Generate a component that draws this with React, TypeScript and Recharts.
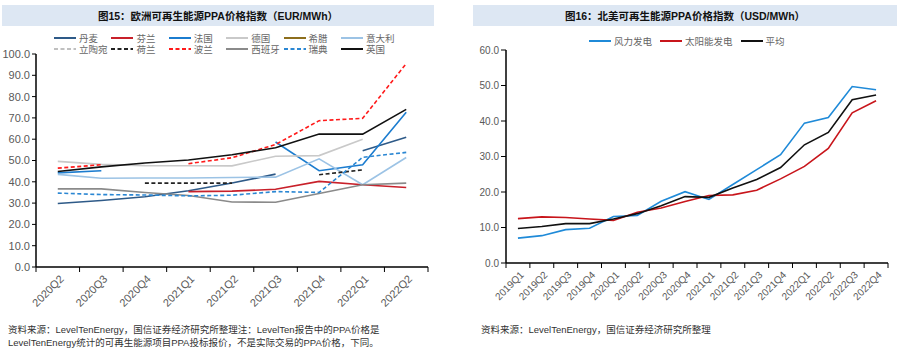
import { Legend, Line, LineChart, XAxis, YAxis } from 'recharts';

const quartersEU = ['2020Q2', '2020Q3', '2020Q4', '2021Q1', '2021Q2', '2021Q3', '2021Q4', '2022Q1', '2022Q2'];
const denmark = [29.8, 31.2, 33, 35.8, 39.4, 43.6, null, 54.6, 60.9];
const finland = [null, null, null, 35.4, 35.6, 36.5, 40.2, 38.6, 37.3];
const france = [44.2, 45.2, null, null, null, 58.7, 45.2, 48, 72.6];
const germany = [49.6, 48.2, 47.6, 47.5, 47.5, 52, 52.3, 60, null];
const greece = [null, null, null, null, null, null, null, null, null];
const italy = [43.5, 41.7, 41.8, 41.8, 42, 42.2, 50.8, 38.6, 51.4];
const lithuania = [null, null, null, null, null, null, null, null, null];
const netherlands = [null, null, 39.4, 39.4, 39.4, null, 43.3, 45.6, null];
const poland = [46.4, 48, null, 48.5, 51.3, 57.5, 68.7, 69.8, 95.5];
const spain = [36.7, 36.7, 35, 33.6, 30.5, 30.4, 34.5, 38.6, 39.4];
const sweden = [34.7, 34, 33.8, 33.4, 33.7, 35.4, 35, 51.5, 53.8];
const uk = [44.8, 47, 48.8, 50.2, 52.7, 56, 62.4, 62.4, 74];
const ticksEU = [0, 10, 20, 30, 40, 50, 60, 70, 80, 90, 100];

const quartersNA = [
  '2019Q1', '2019Q2', '2019Q3', '2019Q4', '2020Q1', '2020Q2', '2020Q3', '2020Q4',
  '2021Q1', '2021Q2', '2021Q3', '2021Q4', '2022Q1', '2022Q2', '2022Q3', '2022Q4',
];
const wind = [7.0, 7.7, 9.4, 9.8, 13.1, 13.4, 17.4, 20.1, 17.9, 22.1, 26.3, 30.5, 39.4, 41.0, 49.7, 48.8];
const solar = [12.5, 13.0, 12.8, 12.4, 12.0, 14.3, 15.5, 17.3, 19.0, 19.2, 20.5, 23.7, 27.2, 32.3, 42.3, 45.7];
const average = [9.7, 10.3, 11.1, 11.1, 12.4, 13.9, 16.1, 18.7, 18.5, 21.1, 23.5, 26.9, 33.3, 36.8, 46.0, 47.3];
const ticksNA = [0, 10, 20, 30, 40, 50, 60];

const seriesEU = [
  { key: 'dk', name: '丹麦', values: denmark, color: '#2e5a88' },
  { key: 'fi', name: '芬兰', values: finland, color: '#c8202a' },
  { key: 'fr', name: '法国', values: france, color: '#1b7ccf' },
  { key: 'de', name: '德国', values: germany, color: '#c9c9c9' },
  { key: 'gr', name: '希腊', values: greece, color: '#8d6e1c' },
  { key: 'it', name: '意大利', values: italy, color: '#9cc3e5' },
  { key: 'lt', name: '立陶宛', values: lithuania, color: '#c0c0c0', dash: '4 2.5' },
  { key: 'nl', name: '荷兰', values: netherlands, color: '#222222', dash: '4 2.5' },
  { key: 'pl', name: '波兰', values: poland, color: '#ff1a1a', dash: '4 2.5' },
  { key: 'es', name: '西班牙', values: spain, color: '#8a8a8a' },
  { key: 'se', name: '瑞典', values: sweden, color: '#2b87d3', dash: '4 2.5' },
  { key: 'uk', name: '英国', values: uk, color: '#111111' },
];

const seriesNA = [
  { key: 'wind', name: '风力发电', values: wind, color: '#1f8ad8' },
  { key: 'solar', name: '太阳能发电', values: solar, color: '#c8151b' },
  { key: 'avg', name: '平均', values: average, color: '#111111' },
];

const rowsEU = quartersEU.map((q, i) => {
  const row: Record<string, any> = { q };
  seriesEU.forEach((s) => (row[s.key] = s.values[i]));
  return row;
});

const rowsNA = quartersNA.map((q, i) => {
  const row: Record<string, any> = { q };
  seriesNA.forEach((s) => (row[s.key] = s.values[i]));
  return row;
});

const FONT = '"Liberation Sans", Arial, "Noto Sans CJK SC", sans-serif';
const LABEL = '#595959';

// chart boxes: width, y-axis width, right margin
const EU_W = 440, EU_YW = 36, EU_R = 12;
const NA_W = 450, NA_YW = 56, NA_R = 12;
const halfBand = (w: number, yw: number, r: number, n: number) => (w - yw - r) / n / 2;

// label at the band centre, tick marks on the band edges (Excel style)
function QuarterTick(props: any) {
  const { x, y, payload, index, visibleTicksCount, fontSize, half } = props;
  return (
    <g>
      <line x1={x - half} x2={x - half} y1={y} y2={y + 5} stroke="#000" />
      {index === visibleTicksCount - 1 && (
        <line x1={x + half} x2={x + half} y1={y} y2={y + 5} stroke="#000" />
      )}
      <text
        transform={`translate(${x + 4},${y + 10}) rotate(-45)`}
        textAnchor="end"
        dy="0.35em"
        fontSize={fontSize}
        fill={LABEL}
        fontFamily={FONT}
      >
        {payload.value}
      </text>
    </g>
  );
}

function LegendItem({ name, color, dash }: { name: string; color: string; dash?: string }) {
  return (
    <div style={{ display: 'flex', alignItems: 'center', height: 11.5 }}>
      <svg width={22} height={4} style={{ marginRight: 3 }}>
        <line x1={0} x2={22} y1={2} y2={2} stroke={color} strokeWidth={2} strokeDasharray={dash} />
      </svg>
      <span style={{ fontSize: 9.5, color: '#666', whiteSpace: 'nowrap' }}>{name}</span>
    </div>
  );
}

function LegendEU() {
  return (
    <div style={{ display: 'grid', gridTemplateColumns: 'repeat(6, 57.4px)', fontFamily: FONT }}>
      {seriesEU.map((s) => (
        <LegendItem key={s.key} name={s.name} color={s.color} dash={s.dash} />
      ))}
    </div>
  );
}

function LegendNA() {
  return (
    <div style={{ display: 'flex', fontFamily: FONT }}>
      {seriesNA.map((s) => (
        <div key={s.key} style={{ marginRight: 8 }}>
          <LegendItem name={s.name} color={s.color} />
        </div>
      ))}
    </div>
  );
}

const titleStyle: React.CSSProperties = {
  position: 'absolute',
  top: 5,
  height: 21,
  background: '#dde7f3',
  fontWeight: 'bold',
  fontSize: 10.5,
  color: '#111',
  display: 'flex',
  alignItems: 'center',
  justifyContent: 'center',
};

const noteStyle: React.CSSProperties = {
  position: 'absolute',
  fontSize: 9.5,
  color: '#333',
  lineHeight: '13px',
  whiteSpace: 'nowrap',
};

export default function App() {
  const halfEU = halfBand(EU_W, EU_YW, EU_R, quartersEU.length);
  const halfNA = halfBand(NA_W, NA_YW, NA_R, quartersNA.length);
  return (
    <div
      style={{
        position: 'absolute',
        left: 0,
        top: 0,
        width: 900,
        height: 351,
        background: '#fff',
        fontFamily: FONT,
        overflow: 'hidden',
      }}
    >
      <div style={{ ...titleStyle, left: 2, width: 432 }}>图15：欧洲可再生能源PPA价格指数（EUR/MWh）</div>
      <div style={{ ...titleStyle, left: 473, width: 424 }}>图16：北美可再生能源PPA价格指数（USD/MWh）</div>

      <div style={{ position: 'absolute', left: 0, top: 0 }}>
        <LineChart width={EU_W} height={320} data={rowsEU} margin={{ top: 31, right: EU_R, left: 0, bottom: 0 }}>
          <XAxis
            dataKey="q"
            scale="band"
            height={53}
            interval={0}
            tickLine={false}
            tickSize={0}
            tickMargin={0}
            axisLine={{ stroke: '#000', strokeWidth: 1.5 }}
            tick={(p: any) => <QuarterTick {...p} fontSize={11} half={halfEU} />}
          />
          <YAxis
            width={EU_YW}
            domain={[0, 100]}
            ticks={ticksEU}
            interval={0}
            tickSize={4}
            tickMargin={2}
            tickFormatter={(v: number) => v.toFixed(1)}
            axisLine={{ stroke: '#000', strokeWidth: 1.5 }}
            tickLine={{ stroke: '#000' }}
            tick={{ fill: LABEL, fontSize: 11, fontFamily: FONT }}
          />
          <Legend
            verticalAlign="top"
            height={23}
            wrapperStyle={{ left: 54, top: 32, width: 360 }}
            content={() => <LegendEU />}
          />
          {seriesEU.map((s) => (
            <Line
              key={s.key}
              dataKey={s.key}
              name={s.name}
              stroke={s.color}
              strokeWidth={1.6}
              strokeDasharray={s.dash}
              dot={false}
              activeDot={false}
              isAnimationActive={false}
            />
          ))}
        </LineChart>
      </div>

      <div style={{ position: 'absolute', left: 450, top: 0 }}>
        <LineChart width={NA_W} height={320} data={rowsNA} margin={{ top: 34, right: NA_R, left: 0, bottom: 0 }}>
          <XAxis
            dataKey="q"
            scale="band"
            height={57}
            interval={0}
            tickLine={false}
            tickSize={0}
            tickMargin={0}
            axisLine={{ stroke: '#000', strokeWidth: 1.5 }}
            tick={(p: any) => <QuarterTick {...p} fontSize={10} half={halfNA} />}
          />
          <YAxis
            width={NA_YW}
            domain={[0, 60]}
            ticks={ticksNA}
            interval={0}
            tickSize={5}
            tickMargin={2}
            tickFormatter={(v: number) => v.toFixed(1)}
            axisLine={{ stroke: '#000', strokeWidth: 1.5 }}
            tickLine={{ stroke: '#000' }}
            tick={{ fill: LABEL, fontSize: 10, fontFamily: FONT }}
          />
          <Legend
            verticalAlign="top"
            height={16}
            wrapperStyle={{ left: 139, top: 35 }}
            content={() => <LegendNA />}
          />
          {seriesNA.map((s) => (
            <Line
              key={s.key}
              dataKey={s.key}
              name={s.name}
              stroke={s.color}
              strokeWidth={1.6}
              dot={false}
              activeDot={false}
              isAnimationActive={false}
            />
          ))}
        </LineChart>
      </div>

      <div style={{ ...noteStyle, left: 8, top: 323 }}>
        资料来源：LevelTenEnergy，国信证券经济研究所整理注：LevelTen报告中的PPA价格是
        <br />
        LevelTenEnergy统计的可再生能源项目PPA投标报价，不是实际交易的PPA价格，下同。
      </div>
      <div style={{ ...noteStyle, left: 481, top: 323 }}>资料来源：LevelTenEnergy，国信证券经济研究所整理</div>
    </div>
  );
}
